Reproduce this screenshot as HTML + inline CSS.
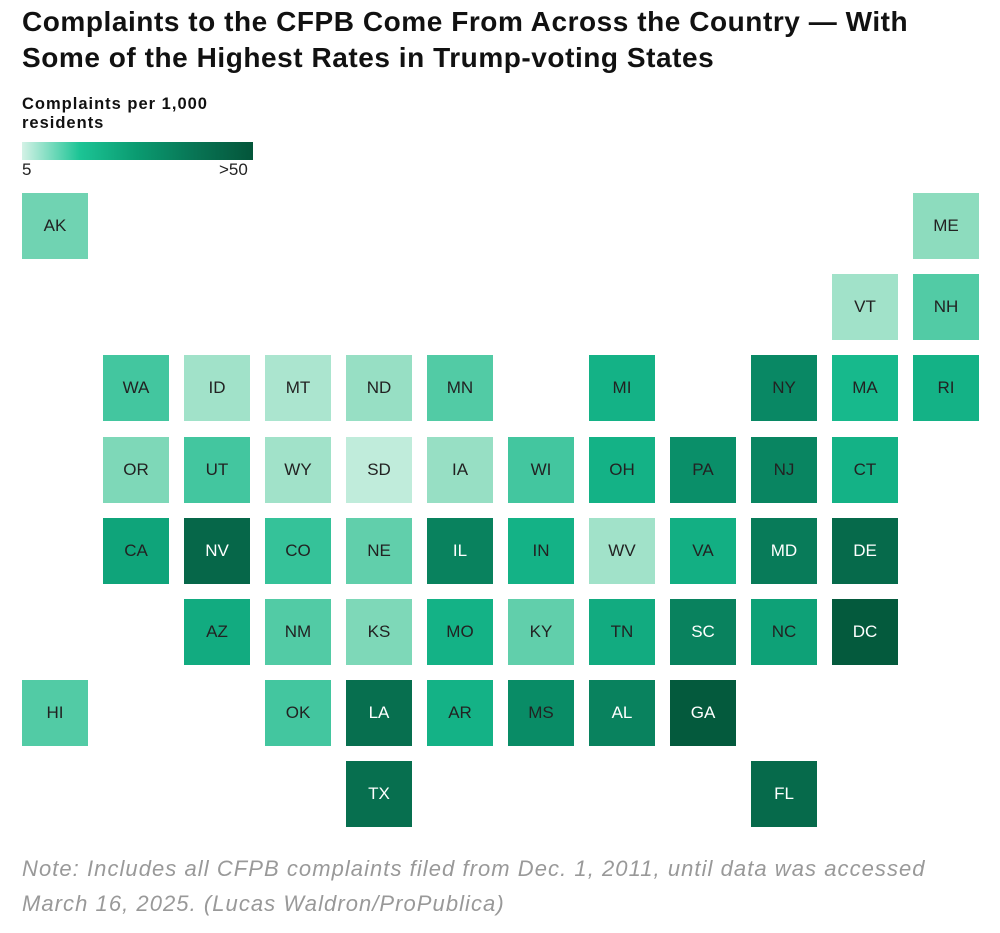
<!DOCTYPE html>
<html><head><meta charset="utf-8"><style>
body{margin:0;background:#fff;font-family:"Liberation Sans",sans-serif;}
#wrap{position:relative;width:1000px;height:933px;overflow:hidden;}
h1{position:absolute;left:22px;top:4px;margin:0;font-size:28px;line-height:36px;font-weight:900;color:#111;letter-spacing:0.55px;white-space:nowrap;}
.lt{position:absolute;left:22px;top:95px;font-size:16.5px;font-weight:bold;line-height:19px;color:#111;letter-spacing:1px;}
.bar{position:absolute;left:22px;top:142px;width:231px;height:18px;background:linear-gradient(to right,#d4f2e6 0%,#1cc495 25%,#0a9a70 50%,#087454 75%,#04553a 100%);}
.ll{position:absolute;top:160px;font-size:17px;color:#222;}
.t{position:absolute;width:66px;height:66px;display:flex;align-items:center;justify-content:center;font-size:17px;}
.note{position:absolute;left:22px;top:851px;font-size:22px;font-style:italic;line-height:35px;color:#999;letter-spacing:1.05px;white-space:nowrap;}
</style></head><body><div id="wrap">
<h1>Complaints to the CFPB Come From Across the Country — With<br>Some of the Highest Rates in Trump-voting States</h1>
<div class="lt">Complaints per 1,000<br>residents</div>
<div class="bar"></div>
<div class="ll" style="left:22px">5</div>
<div class="ll" style="left:219px">&gt;50</div>
<div id="grid"></div>
<div class="note">Note: Includes all CFPB complaints filed from Dec. 1, 2011, until data was accessed<br>March 16, 2025. (Lucas Waldron/ProPublica)</div>
</div>
<script>
const states=["AK","ME","VT","NH","WA","ID","MT","ND","MN","MI","NY","MA","RI","OR","UT","WY","SD","IA","WI","OH","PA","NJ","CT","CA","NV","CO","NE","IL","IN","WV","VA","MD","DE","AZ","NM","KS","MO","KY","TN","SC","NC","DC","HI","OK","LA","AR","MS","AL","GA","TX","FL"];
const cols=[0,11,10,11,1,2,3,4,5,7,9,10,11,1,2,3,4,5,6,7,8,9,10,1,2,3,4,5,6,7,8,9,10,2,3,4,5,6,7,8,9,10,0,3,4,5,6,7,8,4,9];
const rows=[0,0,1,1,2,2,2,2,2,2,2,2,2,3,3,3,3,3,3,3,3,3,3,4,4,4,4,4,4,4,4,4,4,5,5,5,5,5,5,5,5,5,6,6,6,6,6,6,6,7,7];
const rates=[14,12,10,16,17,10,9,11,16,22,34,20,22,13,17,10,7,11,17,22,32,35,22,26,45,18,15,36,22,10,23,38,44,24,16,13,22,15,24,36,27,50,16,17,42,22,33,36,52,42,44];
const stops=[[5,[212,242,230]],[12,[141,220,190]],[20,[23,185,140]],[30,[10,150,110]],[40,[8,116,84]],[50,[4,90,61]]];
function color(v){v=Math.max(5,Math.min(50,v));for(let i=0;i<stops.length-1;i++){const[a,ca]=stops[i],[b,cb]=stops[i+1];if(v<=b){const t=(v-a)/(b-a);return 'rgb('+ca.map((c,k)=>Math.round(c+(cb[k]-c)*t)).join(',')+')';}}}
const xPos=c=>22+c*81, yPos=r=>193+r*81.2;
const g=document.getElementById('grid');
states.forEach((s,i)=>{const d=document.createElement('div');d.className='t';


d.style.left=xPos(cols[i])+'px';d.style.top=yPos(rows[i])+'px';d.style.background=color(rates[i]);d.style.color=rates[i]>=36?'#fff':'#222';d.textContent=s;g.appendChild(d);});
</script></body></html>
